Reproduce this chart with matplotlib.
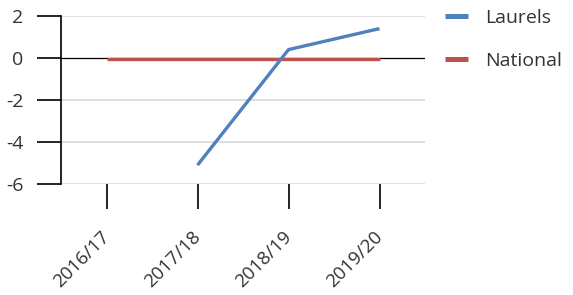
import numpy as np
import matplotlib
matplotlib.use("Agg")
import matplotlib.pyplot as plt
from matplotlib.lines import Line2D
from matplotlib.transforms import ScaledTranslation

categories = ["2016/17", "2017/18", "2018/19", "2019/20"]
laurels = [np.nan, -5.1, 0.4, 1.4]
national = [-0.05, -0.05, -0.05, -0.05]
yticks = [-6, -4, -2, 0, 2]

plt.rcParams['font.family'] = ['Open Sans', 'DejaVu Sans']

fig = plt.figure(figsize=(5.73, 2.95), dpi=100)
W, H = 573, 295
ax = fig.add_axes([61 / W, 1 - 184 / H, (425 - 61) / W, (184 - 16) / H])

x = np.arange(len(categories))
for y in yticks:
    if y != 0:
        ax.axhline(y, color="#d9d9d9", lw=1.2, zorder=1)
ax.axhline(0, color="#000000", lw=0.9, zorder=2)

ax.plot(x, national, color="#C0504D", lw=2.4, zorder=3, solid_capstyle="butt")
ax.plot(x, laurels, color="#4F81BD", lw=2.4, zorder=4, solid_capstyle="butt")

ax.set_xlim(-0.5, 3.5)
ax.set_ylim(-6, 2)
ax.set_yticks(yticks)
ax.set_yticklabels([str(v) for v in yticks], fontsize=14, color="#333333")
ax.set_xticks(x)
ax.set_xticklabels(categories, rotation=45, ha="right", va="center",
                   rotation_mode="anchor", fontsize=13.5, color="#333333")
shift = ScaledTranslation(15 / 100, 2 / 100, fig.dpi_scale_trans)
for lbl in ax.get_xticklabels():
    lbl.set_transform(lbl.get_transform() + shift)

for s in ["top", "right", "bottom"]:
    ax.spines[s].set_visible(False)
ax.spines["left"].set_color("#000000")
ax.spines["left"].set_linewidth(1.2)
ax.tick_params(axis="y", length=17, width=1.2, color="#000000", pad=10)
ax.tick_params(axis="x", length=18, width=1.2, color="#000000", pad=18)

handles = [Line2D([], [], color="#4F81BD", lw=3.6, solid_capstyle="butt"),
           Line2D([], [], color="#C0504D", lw=3.6, solid_capstyle="butt")]
fig.legend(handles, ["Laurels", "National"], loc="upper left",
           bbox_to_anchor=(445 / W, 1 - 9 / H), frameon=False, fontsize=14,
           handlelength=1.2, handletextpad=0.85, labelspacing=1.3,
           borderpad=0, borderaxespad=0, labelcolor="#333333")

fig.savefig("out.png", dpi=100)
